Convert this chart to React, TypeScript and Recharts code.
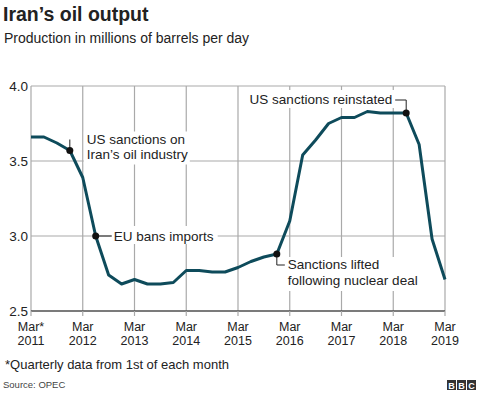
import React from "react";
import { LineChart, Line, XAxis, YAxis, CartesianGrid, ReferenceDot } from "recharts";

// quarterly readings, 1st of Mar/Jun/Sep/Dec, Mar 2011 - Mar 2019
const quarters = [
  "Mar 2011", "Jun 2011", "Sep 2011", "Dec 2011",
  "Mar 2012", "Jun 2012", "Sep 2012", "Dec 2012",
  "Mar 2013", "Jun 2013", "Sep 2013", "Dec 2013",
  "Mar 2014", "Jun 2014", "Sep 2014", "Dec 2014",
  "Mar 2015", "Jun 2015", "Sep 2015", "Dec 2015",
  "Mar 2016", "Jun 2016", "Sep 2016", "Dec 2016",
  "Mar 2017", "Jun 2017", "Sep 2017", "Dec 2017",
  "Mar 2018", "Jun 2018", "Sep 2018", "Dec 2018",
  "Mar 2019",
];

const output = [
  3.66, 3.66, 3.62, 3.57,
  3.39, 3.0, 2.74, 2.68,
  2.71, 2.68, 2.68, 2.69,
  2.77, 2.77, 2.76, 2.76,
  2.79, 2.83, 2.86, 2.88,
  3.1, 3.54, 3.64, 3.75,
  3.79, 3.79, 3.83, 3.82,
  3.82, 3.82, 3.61, 2.98,
  2.71,
];

const tickYears = ["2011", "2012", "2013", "2014", "2015", "2016", "2017", "2018", "2019"];
const tickMonths = ["Mar*", "Mar", "Mar", "Mar", "Mar", "Mar", "Mar", "Mar", "Mar"];
const yTicks = [2.5, 3, 3.5, 4];

const events = [
  { quarter: "Dec 2011", lines: ["US sanctions on", "Iran\u2019s oil industry"], kind: "upRight" },
  { quarter: "Jun 2012", lines: ["EU bans imports"], kind: "right" },
  { quarter: "Dec 2015", lines: ["Sanctions lifted", "following nuclear deal"], kind: "downRight" },
  { quarter: "Jun 2018", lines: ["US sanctions reinstated"], kind: "upLeft" },
];

const data = quarters.map((q, i) => ({ q: i, label: q, value: output[i] }));

const FONT = "'Liberation Sans', Arial, Helvetica, sans-serif";
const LINE = "#0e4b5b";
const GRID = "#a9a9a9";

function XTick(props: any) {
  const { x, y, payload } = props;
  const i = Math.round(payload.value / 4);
  return (
    <g>
      <text x={x} y={y + 12.5} textAnchor="middle" fontFamily={FONT} fontSize={12.5} fill="#222">
        {tickMonths[i]}
      </text>
      <text x={x} y={y + 26.5} textAnchor="middle" fontFamily={FONT} fontSize={12.5} fill="#222">
        {tickYears[i]}
      </text>
    </g>
  );
}

function YTick(props: any) {
  const { x, y, payload } = props;
  return (
    <text x={x} y={y} dy={4.5} textAnchor="end" fontFamily={FONT} fontSize={13.5} fill="#222">
      {payload.value.toFixed(1)}
    </text>
  );
}

function EventMark(props: any) {
  const { cx, cy, kind, lines } = props;
  const fs = 13.5;
  const txt = { fontFamily: FONT, fontSize: fs, fill: "#222" };
  if (kind === "upRight") {
    return (
      <g>
        <rect x={cx + 14} y={cy - 19} width={106} height={33} fill="#fff" />
        <line x1={cx} y1={cy} x2={cx} y2={cy - 11} stroke="#222" strokeWidth={1} />
        <circle cx={cx} cy={cy} r={3.5} fill="#111" />
        <text x={cx + 17} y={cy - 7} {...txt}>{lines[0]}</text>
        <text x={cx + 17} y={cy + 8} {...txt}>{lines[1]}</text>
      </g>
    );
  }
  if (kind === "right") {
    return (
      <g>
        <rect x={cx + 16} y={cy - 10} width={106} height={18} fill="#fff" />
        <line x1={cx} y1={cy} x2={cx + 16} y2={cy} stroke="#222" strokeWidth={1} />
        <circle cx={cx} cy={cy} r={3.5} fill="#111" />
        <text x={cx + 18} y={cy + 5} {...txt}>{lines[0]}</text>
      </g>
    );
  }
  if (kind === "downRight") {
    return (
      <g>
        <rect x={cx + 8} y={cy + 3} width={138} height={34} fill="#fff" />
        <polyline points={`${cx},${cy} ${cx},${cy + 11} ${cx + 8},${cy + 11}`} fill="none" stroke="#222" strokeWidth={1} />
        <circle cx={cx} cy={cy} r={3.5} fill="#111" />
        <text x={cx + 11} y={cy + 15} {...txt}>{lines[0]}</text>
        <text x={cx + 11} y={cy + 31} {...txt}>{lines[1]}</text>
      </g>
    );
  }
  return (
    <g>
      <rect x={cx - 162} y={cy - 23} width={150} height={18} fill="#fff" />
      <polyline points={`${cx},${cy} ${cx},${cy - 13} ${cx - 11},${cy - 13}`} fill="none" stroke="#222" strokeWidth={1} />
      <circle cx={cx} cy={cy} r={3.5} fill="#111" />
      <text x={cx - 14} y={cy - 9} textAnchor="end" {...txt}>{lines[0]}</text>
    </g>
  );
}

export default function App() {
  return (
    <div style={{ position: "absolute", left: 0, top: 0, width: 480, height: 393, background: "#fff", fontFamily: FONT }}>
      <LineChart width={480} height={393} data={data} margin={{ top: 86, right: 35, bottom: 52, left: 0 }}>
        <CartesianGrid stroke={GRID} strokeWidth={1.2} horizontal vertical />
        <XAxis
          dataKey="q"
          type="number"
          domain={[0, 32]}
          ticks={[0, 4, 8, 12, 16, 20, 24, 28, 32]}
          tick={<XTick />}
          axisLine={{ stroke: "#222", strokeWidth: 1.2 }}
          tickLine={{ stroke: GRID, strokeWidth: 1.2 }}
          tickSize={5}
          tickMargin={2}
          height={30}
          interval={0}
        />
        <YAxis
          domain={[2.5, 4]}
          ticks={yTicks}
          width={31}
          axisLine={false}
          tickLine={false}
          tickSize={0}
          tickMargin={3}
          tick={<YTick />}
          interval={0}
        />
        <Line
          type="linear"
          dataKey="value"
          stroke={LINE}
          strokeWidth={3}
          dot={false}
          isAnimationActive={false}
          strokeLinejoin="round"
        />
        {events.map((e) => {
          const i = quarters.indexOf(e.quarter);
          return (
            <ReferenceDot
              key={e.quarter}
              x={i}
              y={output[i]}
              r={3.5}
              ifOverflow="visible"
              shape={(p: any) => <EventMark {...p} kind={e.kind} lines={e.lines} />}
            />
          );
        })}
      </LineChart>
      <svg width={480} height={393} style={{ position: "absolute", left: 0, top: 0, pointerEvents: "none" }}>
        <text x={3} y={21} fontFamily={FONT} fontWeight="bold" fontSize={19.5} fill="#222">Iran’s oil output</text>
        <text x={4} y={43} fontFamily={FONT} fontSize={14} fill="#222">Production in millions of barrels per day</text>
        <text x={5} y={369} fontFamily={FONT} fontSize={13} fill="#222">*Quarterly data from 1st of each month</text>
        <text x={3} y={388} fontFamily={FONT} fontSize={9.5} fill="#444">Source: OPEC</text>
        {["B", "B", "C"].map((ch, k) => (
          <g key={k}>
            <rect x={447 + k * 10} y={380} width={9} height={10} fill="#333" />
            <text x={451.5 + k * 10} y={388.5} textAnchor="middle" fontFamily={FONT} fontWeight="bold" fontSize={9} fill="#fff">{ch}</text>
          </g>
        ))}
      </svg>
    </div>
  );
}
